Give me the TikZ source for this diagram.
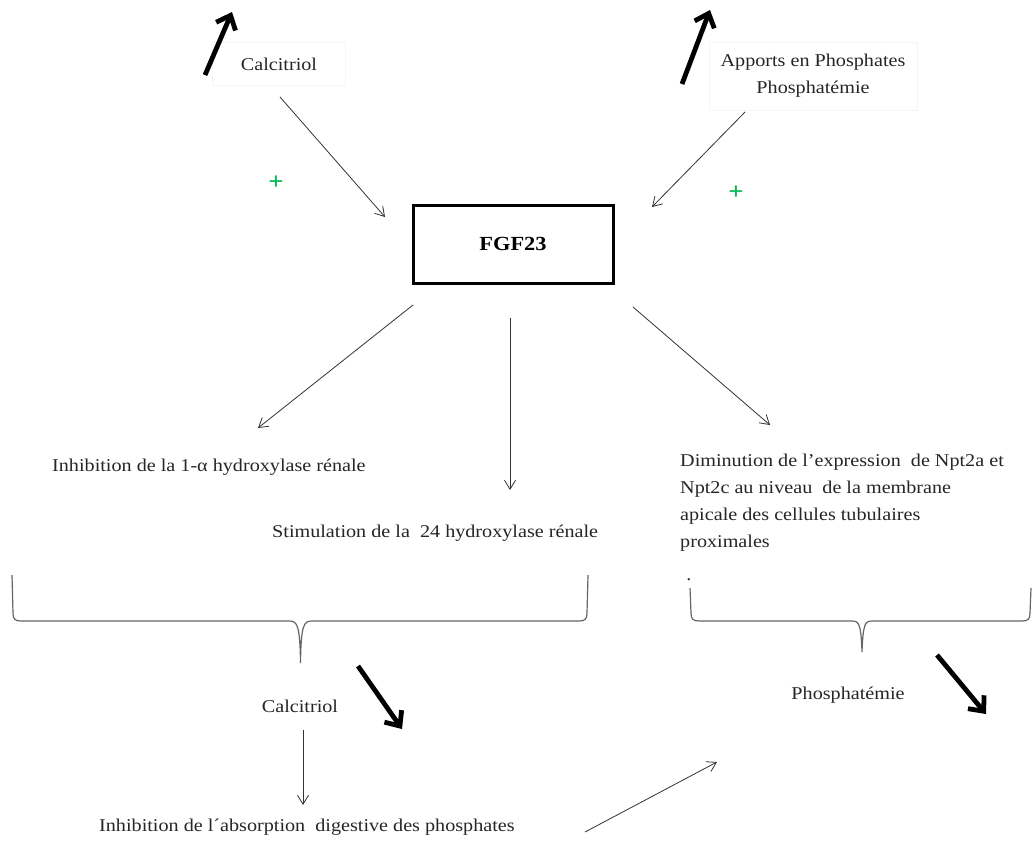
\documentclass[tikz,border=0pt]{standalone}
\usepackage{fontspec}
\setmainfont{Liberation Serif}[FakeStretch=1.12]
\usetikzlibrary{arrows.meta}
\definecolor{plusgreen}{RGB}{0,184,80}
\tikzset{
  lbl/.style={font=\fontsize{18}{27}\selectfont, inner sep=0pt, text=black!85},
  faintbox/.style={draw=black!4, line width=0.8pt},
  thinarrow/.style={draw=black!80, line width=0.8pt, -{Straight Barb[length=9pt,width=11pt]}},
  trend/.style={line width=4.8pt, -{Straight Barb[length=12pt,width=21pt]}},
  bracepath/.style={draw=black!60, line width=1.2pt},
  plus/.style={text=plusgreen, font=\fontsize{24}{24}\selectfont\bfseries, inner sep=0pt}
}
\begin{document}
\begin{tikzpicture}[x=1pt,y=-1pt]
  \useasboundingbox[fill=white] (0,0) rectangle (1032,841);

  % inputs of FGF23
  \node[lbl, faintbox, minimum width=133, minimum height=43] (calA) at (279,64) {Calcitriol};
  \node[lbl, faintbox, align=center, minimum width=208, minimum height=68] (appo) at (813,76) {Apports en Phosphates\\Phosphatémie};
  \node[draw, line width=3pt, minimum width=200, minimum height=78,
        font=\fontsize{20}{22}\selectfont\bfseries] (fgf) at (513,244) {FGF23};

  \node[plus] (plusA) at (276,183) {+};
  \node[plus] (plusB) at (736,193) {+};

  % effects
  \node[lbl, anchor=west] (inh) at (52,467) {Inhibition de la 1-α hydroxylase rénale};
  \node[lbl, anchor=west] (stim) at (272,533) {Stimulation de la~ 24 hydroxylase rénale};
  \node[lbl, anchor=north west, align=left] (dim) at (680,454)
    {Diminution de l’expression~ de Npt2a et\\Npt2c au niveau~ de la membrane\\apicale des cellules tubulaires\\proximales};
  \node[lbl] (dot) at (689,580) {.};

  % consequences
  \node[lbl] (calB) at (300,706) {Calcitriol};
  \node[lbl] (phos) at (848,695) {Phosphatémie};
  \node[lbl, anchor=west] (abs) at (99,827) {Inhibition de l´absorption~ digestive des phosphates};

  % arrow end points
  \coordinate (uA1) at (205,75);  \coordinate (uA2) at (232,12);
  \coordinate (uB1) at (682,84);  \coordinate (uB2) at (710,10);
  \coordinate (cA1) at (280,97);  \coordinate (cA2) at (385,217);
  \coordinate (pB1) at (745,112); \coordinate (pB2) at (652,207);
  \coordinate (f11) at (413,305); \coordinate (f12) at (258,428);
  \coordinate (f21) at (510,318); \coordinate (f22) at (510,490);
  \coordinate (f31) at (633,307); \coordinate (f32) at (770,425);
  \coordinate (dA1) at (358,666); \coordinate (dA2) at (402,729);
  \coordinate (dB1) at (937,655); \coordinate (dB2) at (986,714);
  \coordinate (cb1) at (303,730); \coordinate (cb2) at (303,805);
  \coordinate (ab1) at (585,832); \coordinate (ab2) at (717,762);

  % increase / decrease markers
  \draw[trend] (uA1) -- (uA2);
  \draw[trend] (uB1) -- (uB2);
  \draw[trend] (dA1) -- (dA2);
  \draw[trend] (dB1) -- (dB2);

  % regulatory arrows
  \draw[thinarrow] (cA1) -- (cA2);
  \draw[thinarrow] (pB1) -- (pB2);
  \draw[thinarrow] (f11) -- (f12);
  \draw[thinarrow] (f21) -- (f22);
  \draw[thinarrow] (f31) -- (f32);
  \draw[thinarrow] (cb1) -- (cb2);
  \draw[thinarrow] (ab1) -- (ab2);

  % braces grouping the effects
  \draw[bracepath] (12,575) -- (13,613) .. controls (13,619) and (15,621) .. (21,621)
    -- (289,621) .. controls (297,621) and (300,624) .. (300.5,663)
    .. controls (301,624) and (304,621) .. (312,621)
    -- (579,621) .. controls (585,621) and (587,619) .. (587,613) -- (588,575);
  \draw[bracepath] (690,588) -- (691,613) .. controls (691,619) and (693,621) .. (699,621)
    -- (852,621) .. controls (859,621) and (861,624) .. (862,652)
    .. controls (863,624) and (865,621) .. (872,621)
    -- (1022,621) .. controls (1028,621) and (1030,619) .. (1030,613) -- (1031,588);
\end{tikzpicture}
\end{document}
